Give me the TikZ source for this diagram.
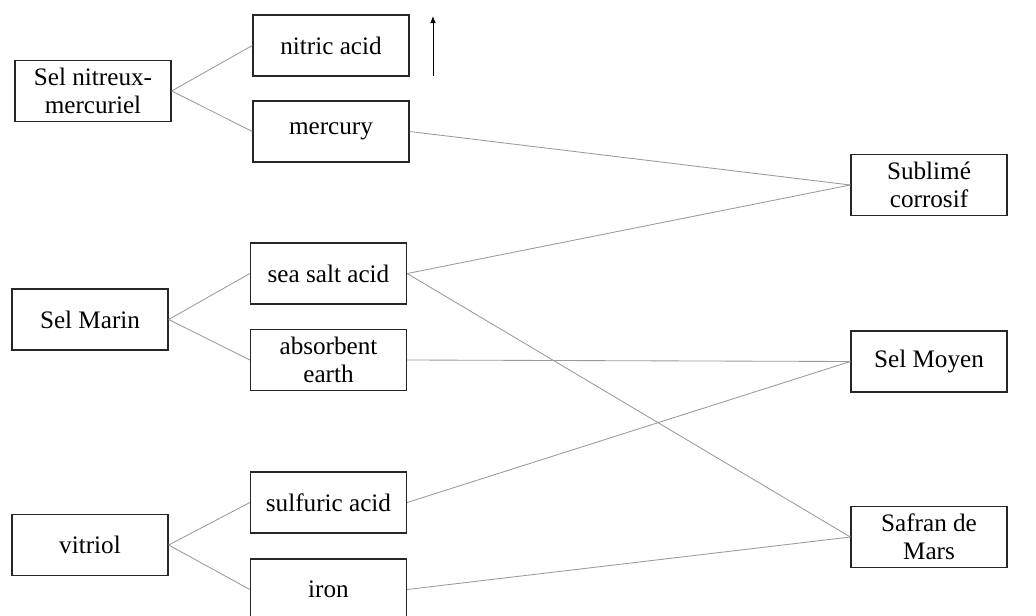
\documentclass[tikz,border=0pt]{standalone}
\usepackage{fontspec}
\setmainfont{Liberation Serif}
\usepackage{tikz}
\usetikzlibrary{arrows.meta}

\begin{document}
\begin{tikzpicture}[x=0.025cm, y=-0.025cm,
% common options for the boxes:
box/.style = {draw=black!85, line width=0.9pt, fill=white, align=center,
            minimum width=3.9cm, minimum height=1.53cm, inner sep=0,
            font=\fontsize{17.9}{20}\selectfont},
% common options for the links:
link/.style = {draw=black!40, line width=0.6pt}]
\useasboundingbox (0,0) rectangle (1036,616);
\node[box] (S1) at (93,91) {Sel nitreux-\\mercuriel};
\node[box] (S2) at (90,319.5) {Sel Marin};
\node[box] (S3) at (90,545) {vitriol};
\node[box] (C1) at (331,45.5) {nitric acid};
\node[box] (C2) at (331,131.5) {mercury};
\node[box] (C3) at (328.5,273.5) {sea salt acid};
\node[box] (C4) at (328.5,360) {absorbent\\earth};
\node[box] (C5) at (328.5,502.5) {sulfuric acid};
\node[box] (C6) at (328.5,589.5) {iron};
\node[box] (P1) at (929,185) {Sublimé\\corrosif};
\node[box] (P2) at (929,361.5) {Sel Moyen};
\node[box] (P3) at (929,537) {Safran de\\Mars};
\coordinate (U0) at (433,76);
\coordinate (U1) at (433,16);
\draw[link] (S1.east) -- (C1.west);
\draw[link] (S1.east) -- (C2.west);
\draw[link] (S2.east) -- (C3.west);
\draw[link] (S2.east) -- (C4.west);
\draw[link] (S3.east) -- (C5.west);
\draw[link] (S3.east) -- (C6.west);
\draw[link] (C2.east) -- (P1.west);
\draw[link] (C3.east) -- (P1.west);
\draw[link] (C3.east) -- (P3.west);
\draw[link] (C4.east) -- (P2.west);
\draw[link] (C5.east) -- (P2.west);
\draw[link] (C6.east) -- (P3.west);
\draw[-{Latex[length=5pt,width=4pt]}, line width=0.6pt] (U0) -- (U1);
\end{tikzpicture}
\end{document}
